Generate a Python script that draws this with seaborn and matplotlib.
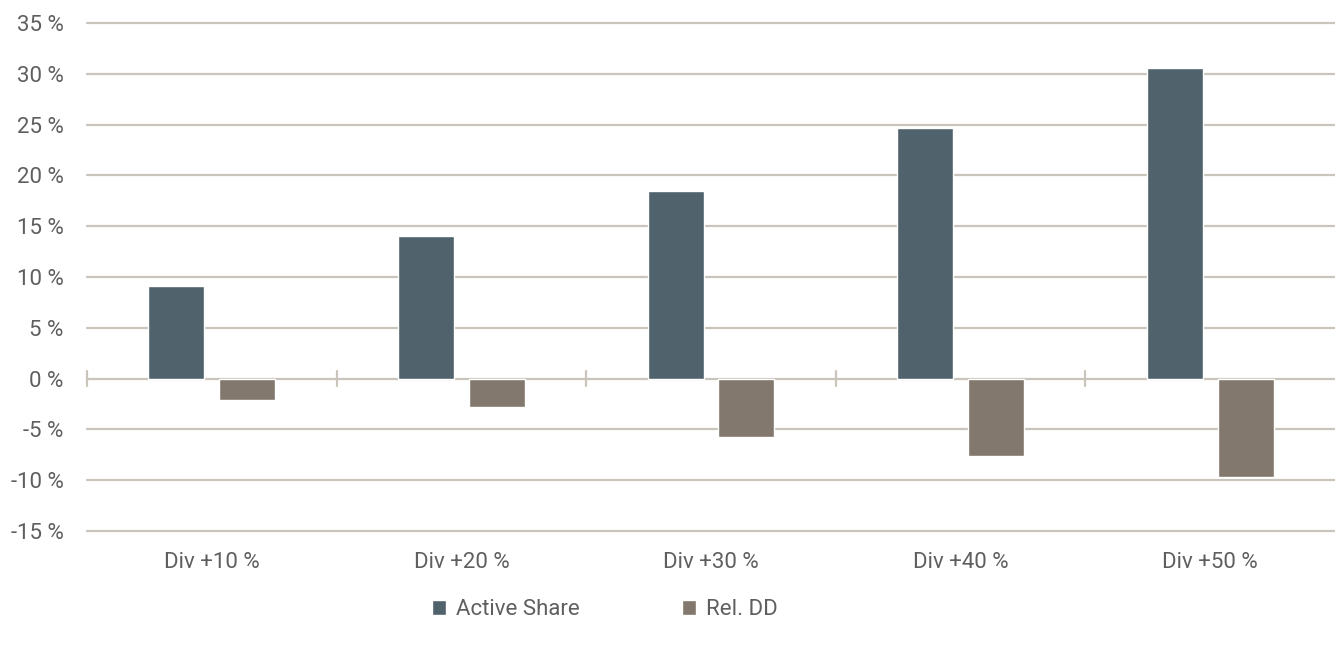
import numpy as np
import pandas as pd
import matplotlib
matplotlib.use("Agg")
import matplotlib.pyplot as plt
import seaborn as sns

# -------------------------------
# DATA
# -------------------------------
categories = ["Div +10 %", "Div +20 %", "Div +30 %", "Div +40 %", "Div +50 %"]
active_share = [9.1, 14.0, 18.5, 24.7, 30.6]
rel_dd = [-2.1, -2.8, -5.7, -7.6, -9.7]
series_names = ["Active Share", "Rel. DD"]
y_ticks = [-15, -10, -5, 0, 5, 10, 15, 20, 25, 30, 35]

df = pd.DataFrame({
    "Category": categories * 2,
    "Value": active_share + rel_dd,
    "Series": [series_names[0]] * len(categories) + [series_names[1]] * len(categories),
})

# -------------------------------
# STYLE
# -------------------------------
sns.set_theme(style="white")
plt.rcParams['font.family'] = ['Roboto', 'DejaVu Sans']
text_color = "#5f5f5f"
grid_color = "#c9c5bc"
palette = {"Active Share": "#50636c", "Rel. DD": "#82786d"}
fs = 16

fig = plt.figure(figsize=(13.35, 6.46), dpi=100)
ax = fig.add_axes([0.0652, 0.178, 0.9348, 0.7864])

sns.barplot(data=df, x="Category", y="Value", hue="Series", palette=palette,
            width=0.568, gap=0.21, ax=ax, saturation=1, zorder=3)

ax.set_ylim(-15, 35)
ax.set_xlim(-0.5, len(categories) - 0.5)
ax.set_yticks(y_ticks)
ax.set_yticklabels([f"{t} %" for t in y_ticks])
ax.set_xlabel("")
ax.set_ylabel("")

for t in y_ticks:
    ax.axhline(t, color=grid_color, lw=1.6, zorder=1, clip_on=False)

# small boundary ticks on the zero line
for b in np.arange(-0.5, len(categories) - 1, 1.0):
    ax.plot([b, b], [-0.75, 0.75], color=grid_color, lw=1.6, zorder=2, clip_on=False)

for s in ax.spines.values():
    s.set_visible(False)
ax.tick_params(axis="both", length=0, labelsize=fs, colors=text_color)
ax.tick_params(axis="y", pad=17)
ax.tick_params(axis="x", pad=15)

handles, labels = ax.get_legend_handles_labels()
ax.get_legend().remove()
fig.legend(handles, labels, loc="center", bbox_to_anchor=(0.453, 0.056), ncol=2,
           frameon=False, fontsize=fs, labelcolor=text_color, handlelength=0.62,
           handleheight=0.62, handletextpad=0.45, columnspacing=4.6)

fig.savefig("out.png", dpi=100)
